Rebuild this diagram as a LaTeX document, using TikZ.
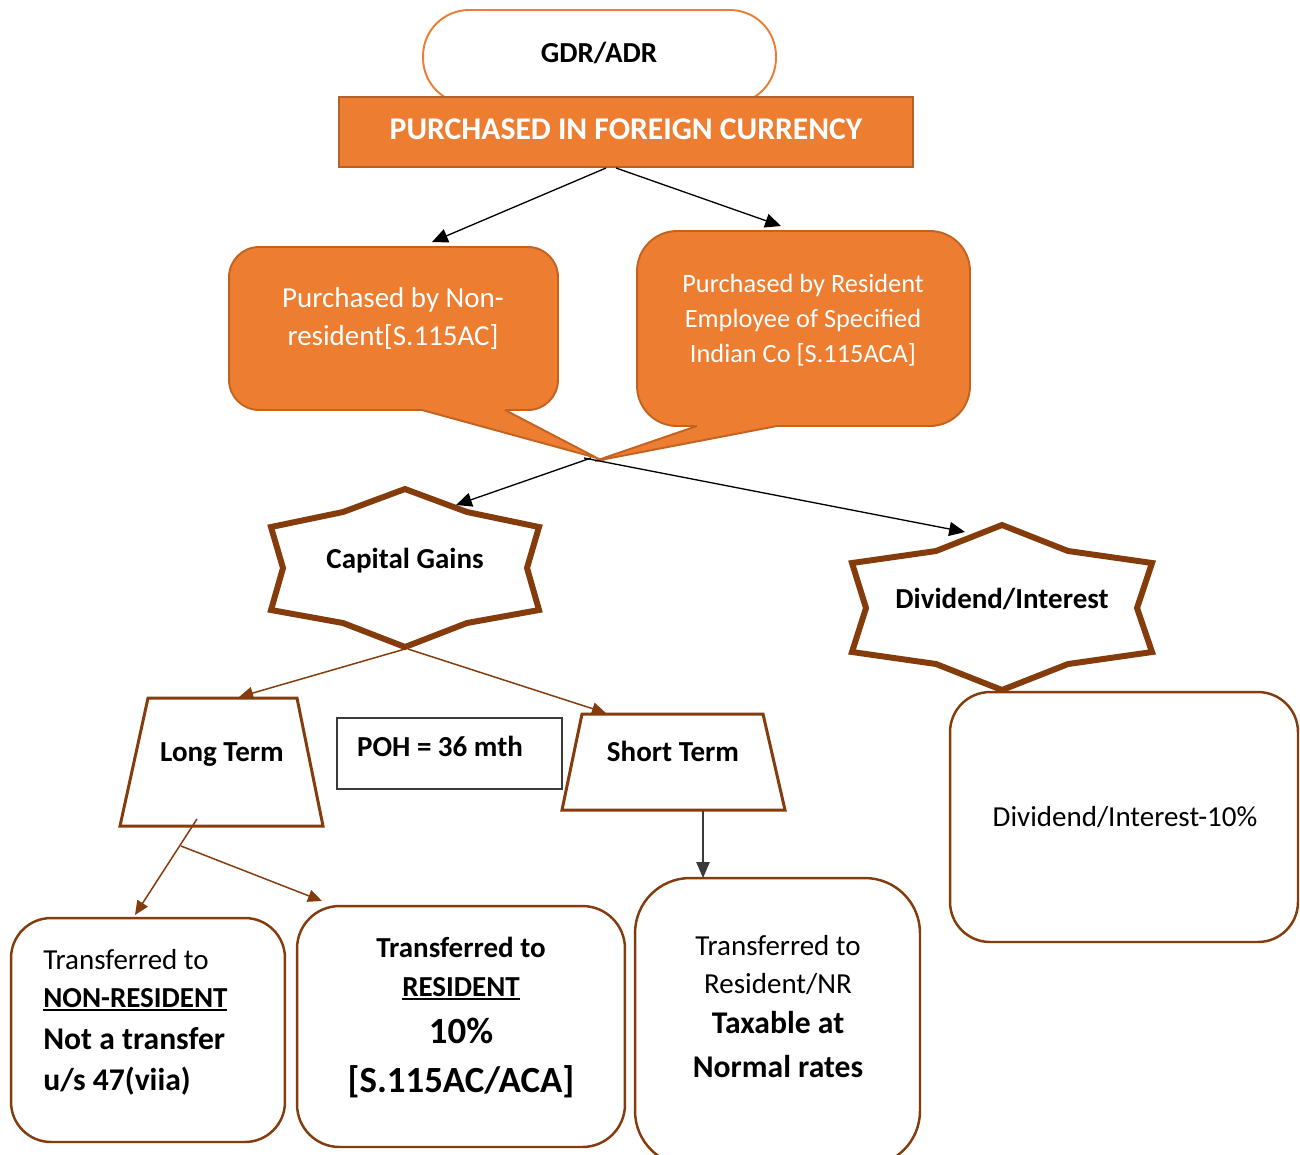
\documentclass[tikz,border=0pt]{standalone}
\usepackage{fontspec}
\setmainfont{Carlito}
\usetikzlibrary{arrows.meta}

\definecolor{orfill}{HTML}{ED7D31}
\definecolor{oredge}{HTML}{B5612A}
\definecolor{bubedge}{HTML}{C4631F}
\definecolor{brn}{HTML}{843C0C}
\definecolor{dgray}{HTML}{3A3A3A}

% thick underline for emphasised words
\newcommand\thickul[1]{\setbox0=\hbox{#1}\rlap{\rule[-2.3pt]{\wd0}{1.1pt}}\box0}

\begin{document}
\begin{tikzpicture}[x=0.02cm, y=-0.02cm,
  tx/.style={anchor=base, inner sep=0pt, font=\fontsize{16.5}{20}\selectfont},
  tb/.style={tx, font=\fontsize{16.5}{20}\selectfont\bfseries},
  tl/.style={tx, font=\fontsize{18}{22}\selectfont\bfseries},
  th/.style={tx, font=\fontsize{21}{25}\selectfont\bfseries},
  terminal/.style={draw=orfill, line width=1.1pt, fill=white, rounded corners=0.92cm, inner sep=0pt},
  hdrbox/.style={fill=orfill, draw=oredge, line width=1.4pt, inner sep=0pt},
  bubbox/.style={fill=orfill, draw=bubedge, line width=1.1pt, inner sep=0pt},
  bubline/.style={draw=bubedge, line width=1.1pt, line join=miter},
  seal/.style={draw=brn, line width=3.4pt, fill=white, line join=miter},
  trap/.style={draw=brn, line width=1.7pt, fill=white, line join=miter},
  leaf/.style={draw=brn, line width=1.4pt, fill=white, inner sep=0pt},
  blkarrow/.style={draw=black, line width=0.75pt, -{Triangle[length=9pt,width=8pt]}},
  brnarrow/.style={draw=brn, line width=0.85pt, -{Triangle[length=8pt,width=7pt]}},
  grayarrow/.style={draw=dgray, line width=0.85pt, -{Triangle[length=9pt,width=7.5pt]}}
]
\useasboundingbox (0,0) rectangle (1300,1154);

% ---- top: GDR/ADR terminal and header bar
\node[terminal, minimum width=7.06cm, minimum height=1.88cm] (gdr) at (599.5,57) {};
\node[tb] (gdrT) at (599,62) {GDR/ADR};
\node[hdrbox, minimum width=11.48cm, minimum height=1.4cm] (hdr) at (626,132) {};
\node[tx, text=white, font=\fontsize{18}{22}\selectfont\bfseries] (hdrT) at (626,139) {PURCHASED IN FOREIGN CURRENCY};

% ---- callouts
\coordinate (tipL) at (597,458);
\coordinate (tipR) at (595,461);

\node[bubbox, rounded corners=0.6cm, minimum width=6.58cm, minimum height=3.26cm] (nrb) at (393.5,328.5) {};
\fill[orfill] (422,410) -- (tipL) -- (505,410) -- (505,404) -- (422,404) -- cycle;
\draw[bubline] (422,410) -- (tipL) -- (505,410);
\node[tx, text=white] (nrT1) at (393,307) {Purchased by Non-};
\node[tx, text=white] (nrT2) at (393,345) {resident[S.115AC]};

\node[bubbox, rounded corners=0.8cm, minimum width=6.66cm, minimum height=3.9cm] (reb) at (803.5,328.5) {};
\fill[orfill] (777,426) -- (tipR) -- (697,426) -- (697,420) -- (777,420) -- cycle;
\draw[bubline] (777,426) -- (tipR) -- (697,426);
\node[tx, text=white, font=\fontsize{15}{18}\selectfont] (reT1) at (803,292) {Purchased by Resident};
\node[tx, text=white, font=\fontsize{15}{18}\selectfont] (reT2) at (803,327) {Employee of Specified};
\node[tx, text=white, font=\fontsize{15}{18}\selectfont] (reT3) at (803,362) {Indian Co [S.115ACA]};

% ---- Capital Gains / Dividend seals
\draw[seal] (405,489) -- (467,512) -- (539,527) -- (527,568) -- (539,610) -- (467,623)
  -- (405,647) -- (343,623) -- (271,610) -- (283,568) -- (271,527) -- (343,512) -- cycle;
\node[tb] (cgT) at (405,568) {Capital Gains};

\draw[seal] (1002,525) -- (1068,551) -- (1152,563) -- (1137,608) -- (1152,652) -- (1068,664)
  -- (1002,690) -- (936,664) -- (852,652) -- (866,608) -- (852,563) -- (936,551) -- cycle;
\node[tb] (diT) at (1002,608) {Dividend/Interest};

% ---- holding period branches
\draw[trap] (148,698) -- (297,698) -- (323,826) -- (120,826) -- cycle;
\node[tb] (ltT) at (222,761) {Long Term};
\draw[trap] (582,714) -- (763,714) -- (785,810) -- (562,810) -- cycle;
\node[tb] (stT) at (673,761) {Short Term};

\node[draw=dgray, line width=0.7pt, inner sep=0pt, minimum width=4.5cm, minimum height=1.42cm] (poh) at (449.5,753.5) {};
\node[tb] (pohT) at (440,756) {POH = 36 mth};

% ---- outcome boxes
\node[leaf, rounded corners=0.8cm, minimum width=5.48cm, minimum height=4.48cm] (boxA) at (148,1030) {};
\node[tx, anchor=base west] (a1) at (43,969) {Transferred to};
\node[tb, anchor=base west] (a2) at (43,1007) {\thickul{NON-RESIDENT}};
\node[tl, anchor=base west] (a3) at (43,1049) {Not a transfer};
\node[tl, anchor=base west] (a4) at (43,1090) {u/s 47(viia)};

\node[leaf, rounded corners=0.85cm, minimum width=6.56cm, minimum height=4.82cm] (boxB) at (461,1026.5) {};
\node[tb] (b1) at (461,957) {Transferred to};
\node[tb] (b2) at (461,996) {\thickul{RESIDENT}};
\node[th] (b3) at (461,1043) {10\%};
\node[th] (b4) at (461,1092) {[S.115AC/ACA]};

\node[leaf, rounded corners=1.1cm, minimum width=5.7cm, minimum height=5.76cm] (boxC) at (777.5,1022) {};
\node[tx] (c1) at (778,955) {Transferred to};
\node[tx] (c2) at (778,993) {Resident/NR};
\node[tl] (c3) at (778,1033) {Taxable at};
\node[tl] (c4) at (778,1077) {Normal rates};

\node[leaf, rounded corners=0.8cm, minimum width=6.96cm, minimum height=5cm] (boxD) at (1124,817) {};
\node[tx] (dT) at (1125,826) {Dividend/Interest-10\%};

% ---- connectors
\coordinate (h1) at (606,168);  \coordinate (nrIn) at (432,242);
\coordinate (h2) at (616,168);  \coordinate (reIn) at (781,226);
\coordinate (t1) at (591,458);  \coordinate (cgIn) at (456,505);
\coordinate (t2) at (584,458);  \coordinate (diIn) at (965,532);
\coordinate (cg1) at (405,649); \coordinate (ltIn) at (239,697);
\coordinate (cg2) at (408,649); \coordinate (stIn) at (606,713);
\coordinate (lt1) at (197,819); \coordinate (aIn) at (135,915);
\coordinate (lt2) at (181,846); \coordinate (bIn) at (322,901);
\coordinate (st1) at (703,811); \coordinate (cIn) at (703,878);

\draw[blkarrow] (h1) -- (nrIn);
\draw[blkarrow] (h2) -- (reIn);
\draw[blkarrow] (t1) -- (cgIn);
\draw[blkarrow] (t2) -- (diIn);
\draw[brnarrow] (cg1) -- (ltIn);
\draw[brnarrow] (cg2) -- (stIn);
\draw[brnarrow] (lt1) -- (aIn);
\draw[brnarrow] (lt2) -- (bIn);
\draw[grayarrow] (st1) -- (cIn);
\end{tikzpicture}
\end{document}
